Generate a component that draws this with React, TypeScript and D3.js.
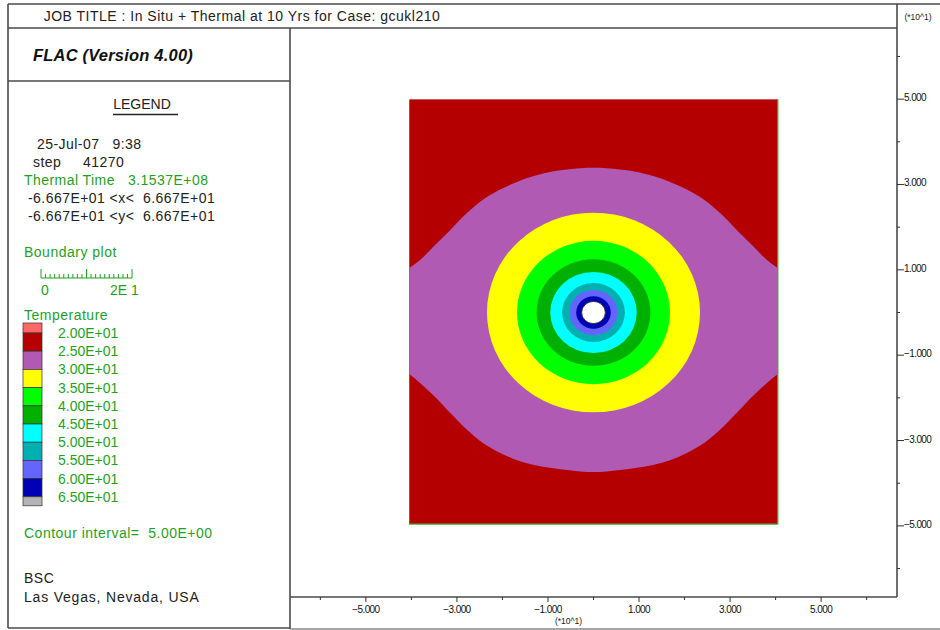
import React from 'react';
import * as d3 from 'd3';

// ---------- data ----------
const titleText = 'JOB TITLE : In Situ + Thermal at 10 Yrs for Case: gcukl210';
const versionText = 'FLAC (Version 4.00)';
const infoLines = [
  { text: '25-Jul-07   9:38', green: false, x: 37 },
  { text: 'step     41270', green: false, x: 33 },
  { text: 'Thermal Time   3.1537E+08', green: true, x: 24 },
  { text: '-6.667E+01 <x<  6.667E+01', green: false, x: 28 },
  { text: '-6.667E+01 <y<  6.667E+01', green: false, x: 28 },
];
const legendLabels = ['2.00E+01', '2.50E+01', '3.00E+01', '3.50E+01', '4.00E+01', '4.50E+01', '5.00E+01', '5.50E+01', '6.00E+01', '6.50E+01'];
const legendColors = ['#ff6666', '#b40000', '#b05ab4', '#ffff00', '#00ff00', '#00b000', '#00ffff', '#00b0b0', '#6464ff', '#0000b4', '#b4b4b4'];

// window (units of 10 m)
const windowRange = [-6.667, 6.667];
const modelX = [-4.05, 4.05];
const modelY = [-4.96, 5.0];

// 25 contour (red / purple boundary), left half, mirrored for right half
const contour25X = [-4.05, -3.81, -3.53, -3.15, -2.78, -2.43, -2.05, -1.68, -1.33, -0.96, -0.58, 0];
const contour25Top = [1.04, 1.23, 1.53, 1.93, 2.33, 2.64, 2.88, 3.06, 3.19, 3.29, 3.35, 3.39];
const contour25Bottom = [-1.44, -1.65, -1.93, -2.35, -2.75, -3.06, -3.29, -3.46, -3.57, -3.64, -3.69, -3.74];

// concentric contours around the drift: level, radius, colour of the band inside
const ringLevels = [30, 35, 40, 45, 50, 55, 60];
const ringRadii = [2.34, 1.68, 1.25, 0.95, 0.69, 0.53, 0.38];
const ringColors = ['#ffff00', '#00ff00', '#00b000', '#00ffff', '#00b0b0', '#6464ff', '#0000b4'];
const driftRadius = 0.26;

const axisTicks = [-6, -5, -4, -3, -2, -1, 0, 1, 2, 3, 4, 5, 6];
const axisLabelTicks = [-5, -3, -1, 1, 3, 5];

const FONT = 'Liberation Sans, Arial, Helvetica, sans-serif';
const GREEN = '#1f9f1f';
const FRAME = '#4a4a4a';
const pre = { whiteSpace: 'pre' as const };

export default function App() {
  const plotL = 290, plotR = 897, plotT = 28, plotB = 597;
  const x = d3.scaleLinear().domain(windowRange).range([plotL, plotR]);
  const y = d3.scaleLinear().domain(windowRange).range([plotB, plotT]);

  const pts = contour25X.map((v, i) => ({ x: v, t: contour25Top[i], b: contour25Bottom[i] }));
  const mirrored = pts.slice(0, -1).reverse().map((p) => ({ x: -p.x, t: p.t, b: p.b }));
  const allPts = [...pts, ...mirrored];
  const area = d3
    .area<{ x: number; t: number; b: number }>()
    .x((d) => x(d.x))
    .y0((d) => y(d.b))
    .y1((d) => y(d.t))
    .curve(d3.curveMonotoneX);

  const cx = x(0), cy = y(0);
  const rx = (r: number) => x(r) - x(0);
  const ry = (r: number) => y(0) - y(r);

  // legend swatches
  const swX = 23, swW = 19;
  const swTop = 323;
  const rowH = 18.2;
  const swatches = legendColors.map((c, i) => {
    let y0: number, h: number;
    if (i === 0) { y0 = swTop; h = 10; }
    else if (i === legendColors.length - 1) { y0 = swTop + 10 + (i - 1) * rowH; h = 9; }
    else { y0 = swTop + 10 + (i - 1) * rowH; h = rowH; }
    return { c, y0, h };
  });

  // scale bar: 2 units = x(2)-x(0)
  const sbX0 = 41, sbY = 278;
  const sbW = x(2) - x(0);
  const sbTicks = d3.range(0, 21);

  return (
    <svg width={940} height={630} style={{ position: 'absolute', left: 0, top: 0, background: '#fff' }} fontFamily={FONT}>
      <rect x={0} y={0} width={940} height={630} fill="#fff" />

      {/* model */}
      <clipPath id="modelClip">
        <rect x={x(modelX[0])} y={y(modelY[1])} width={x(modelX[1]) - x(modelX[0])} height={y(modelY[0]) - y(modelY[1])} />
      </clipPath>
      <g clipPath="url(#modelClip)">
        <rect x={x(modelX[0])} y={y(modelY[1])} width={x(modelX[1]) - x(modelX[0])} height={y(modelY[0]) - y(modelY[1])} fill={legendColors[1]} />
        <path d={area(allPts) || ''} fill={legendColors[2]} />
        {ringRadii.map((r, i) => (
          <ellipse key={ringLevels[i]} cx={cx} cy={cy} rx={rx(r)} ry={ry(r)} fill={ringColors[i]} />
        ))}
        <ellipse cx={cx} cy={cy} rx={rx(driftRadius)} ry={ry(driftRadius)} fill="#fff" stroke="#222" strokeWidth={0.8} />
      </g>
      <line x1={x(modelX[1])} x2={x(modelX[1])} y1={y(modelY[1])} y2={y(modelY[0])} stroke="#3cb030" strokeWidth={1.2} />
      <line x1={x(modelX[0])} x2={x(modelX[1])} y1={y(modelY[0])} y2={y(modelY[0])} stroke="#3cb030" strokeWidth={1.2} />

      {/* frames */}
      <g stroke={FRAME} strokeWidth={1.6} fill="none">
        <line x1={8} x2={940} y1={4} y2={4} />
        <line x1={8} x2={8} y1={4} y2={628} />
        <line x1={8} x2={plotR} y1={plotT} y2={plotT} />
        <line x1={8} x2={plotL} y1={81} y2={81} />
        <line x1={plotL} x2={plotL} y1={plotT} y2={629} />
        <line x1={8} x2={plotL} y1={628} y2={628} />
        <line x1={plotR} x2={plotR} y1={4} y2={plotB} />
        <line x1={plotL} x2={plotR} y1={plotB} y2={plotB} />
        <line x1={plotL} x2={940} y1={629} y2={629} stroke="#888" />
      </g>

      {/* title */}
      <text x={242} y={21} textAnchor="middle" fontSize={14} letterSpacing={0.5} fill="#222" style={pre}>{titleText}</text>
      <text x={33} y={61} fontSize={16.5} letterSpacing={0.2} fontWeight="bold" fontStyle="italic" fill="#111">{versionText}</text>
      <text x={918} y={20} textAnchor="middle" fontSize={8.5} fill="#222">(*10^1)</text>

      {/* legend header */}
      <text x={142} y={109} textAnchor="middle" fontSize={14} fill="#222">LEGEND</text>
      <line x1={113} x2={178} y1={114.5} y2={114.5} stroke="#222" strokeWidth={1.3} />

      {infoLines.map((l, i) => (
        <text key={i} x={l.x} y={149 + i * 18} fontSize={14} letterSpacing={0.45} fill={l.green ? GREEN : '#222'} style={pre}>{l.text}</text>
      ))}

      <text x={24} y={257} fontSize={14} letterSpacing={0.5} fill={GREEN}>Boundary plot</text>
      <g stroke={GREEN} strokeWidth={1}>
        <line x1={sbX0} x2={sbX0 + sbW} y1={sbY} y2={sbY} />
        {sbTicks.map((t) => {
          const major = t === 0 || t === 10 || t === 20;
          const xx = sbX0 + (t / 20) * sbW;
          return <line key={t} x1={xx} x2={xx} y1={sbY} y2={sbY - (major ? 9 : 4)} />;
        })}
      </g>
      <text x={41} y={295} fontSize={14} fill={GREEN}>0</text>
      <text x={110} y={295} fontSize={14} fill={GREEN} style={pre}>2E 1</text>

      <text x={24} y={320} fontSize={14} letterSpacing={0.5} fill={GREEN}>Temperature</text>
      {swatches.map((s, i) => (
        <rect key={i} x={swX} y={s.y0} width={swW} height={s.h} fill={s.c} stroke="#333" strokeWidth={0.7} />
      ))}
      {legendLabels.map((l, i) => (
        <text key={l} x={58} y={swTop + 10 + i * rowH + 5} fontSize={14} fill={GREEN}>{l}</text>
      ))}

      <text x={24} y={538} fontSize={14} letterSpacing={0.5} fill={GREEN} style={pre}>Contour interval=  5.00E+00</text>
      <text x={24} y={583} fontSize={14} letterSpacing={0.5} fill="#222">BSC</text>
      <text x={24} y={602} fontSize={14} letterSpacing={0.8} fill="#222">Las Vegas, Nevada, USA</text>

      {/* axes */}
      <g stroke="#333" strokeWidth={1}>
        {axisTicks.map((t) => {
          const major = axisLabelTicks.includes(t);
          return <line key={t} x1={x(t)} x2={x(t)} y1={plotB} y2={plotB + (major ? 5 : 3)} />;
        })}
        {axisTicks.map((t) => {
          const major = axisLabelTicks.includes(t);
          return <line key={'y' + t} x1={plotR} x2={plotR + (major ? 7 : 3)} y1={y(t)} y2={y(t)} />;
        })}
      </g>
      {axisLabelTicks.map((t) => (
        <text key={t} x={x(t)} y={613} textAnchor="middle" fontSize={10} letterSpacing={-0.6} fill="#111">{d3.format('.3f')(t)}</text>
      ))}
      <text x={x(-0.55)} y={624} textAnchor="middle" fontSize={8.5} fill="#222">(*10^1)</text>
      {axisLabelTicks.map((t) => (
        <text key={'yl' + t} x={plotR + 7} y={y(t) + 2} fontSize={10} letterSpacing={-0.6} fill="#111">{d3.format('.3f')(t)}</text>
      ))}
    </svg>
  );
}
